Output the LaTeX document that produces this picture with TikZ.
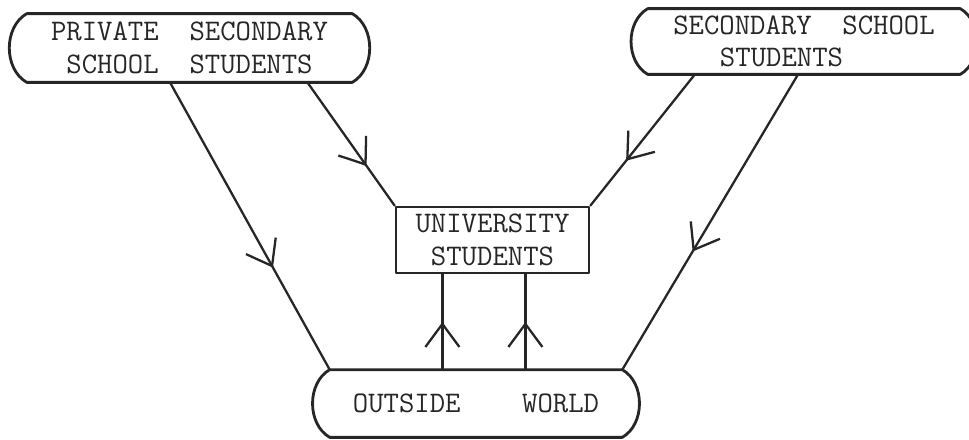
\documentclass[tikz,border=0pt]{standalone}
\usetikzlibrary{arrows.meta,decorations.markings,calc}

\begin{document}
\begin{tikzpicture}[x=0.02cm, y=-0.02cm, line cap=round, line join=round]
    \tikzset{
      txt/.style={font=\ttfamily\fontsize{17}{18.5}\selectfont, align=center, inner sep=0pt, text=black!85},
      edge/.style={draw=black!85, line width=1.6pt},
      flow/.style={draw=black!85, line width=1.3pt},
      mid/.style={postaction={decorate, decoration={markings,
        mark=at position #1 with {\arrow[black!85]{Straight Barb[length=4.6mm,width=6.8mm]}}}}}
    }
    \useasboundingbox (0,0) rectangle (969,439);
    % boxes
    \node (private) [txt, minimum width=6.5cm, minimum height=1.36cm] at (189.5,48) {PRIVATE\ \ SECONDARY\\SCHOOL\ \ STUDENTS};
    \node (secondary) [txt, minimum width=6.24cm, minimum height=1.3cm] at (804,41.5) {SECONDARY\ \ SCHOOL\\STUDENTS\hspace*{0.9cm}};
    \node (university) [txt, edge, minimum width=3.86cm, minimum height=1.32cm] at (492.5,240) {UNIVERSITY\\STUDENTS};
    \node (outside) [txt, minimum width=5.84cm, minimum height=1.34cm] at (476,403.5) {OUTSIDE\ \ \ \ WORLD};
    \foreach \n in {private, secondary, outside} {
      \draw[edge] (\n.north west) -- (\n.north east) to[bend left=60] (\n.south east)
        -- (\n.south west) to[bend left=60] (\n.north west);
    }
    % arrows
    \coordinate (p1) at ($(private.south west)!0.44!(private.south east)$);
    \coordinate (p2) at ($(private.south west)!0.862!(private.south east)$);
    \coordinate (s1) at ($(secondary.south west)!0.151!(secondary.south east)$);
    \coordinate (s2) at ($(secondary.south west)!0.481!(secondary.south east)$);
    \draw[flow, mid=0.645] (p1) -- (outside.north west);
    \draw[flow, mid=0.68] (p2) -- (university.north west);
    \draw[flow, mid=0.66] (s1) -- (university.north east);
    \draw[flow, mid=0.60] (s2) -- (outside.north east);
    \foreach \f/\name in {0.244/u1, 0.668/u2} {
      \coordinate (\name) at ($(university.south west)!\f!(university.south east)$);
      \draw[flow, mid=0.5] (\name |- outside.north) -- (\name);
    }
\end{tikzpicture}
\end{document}
